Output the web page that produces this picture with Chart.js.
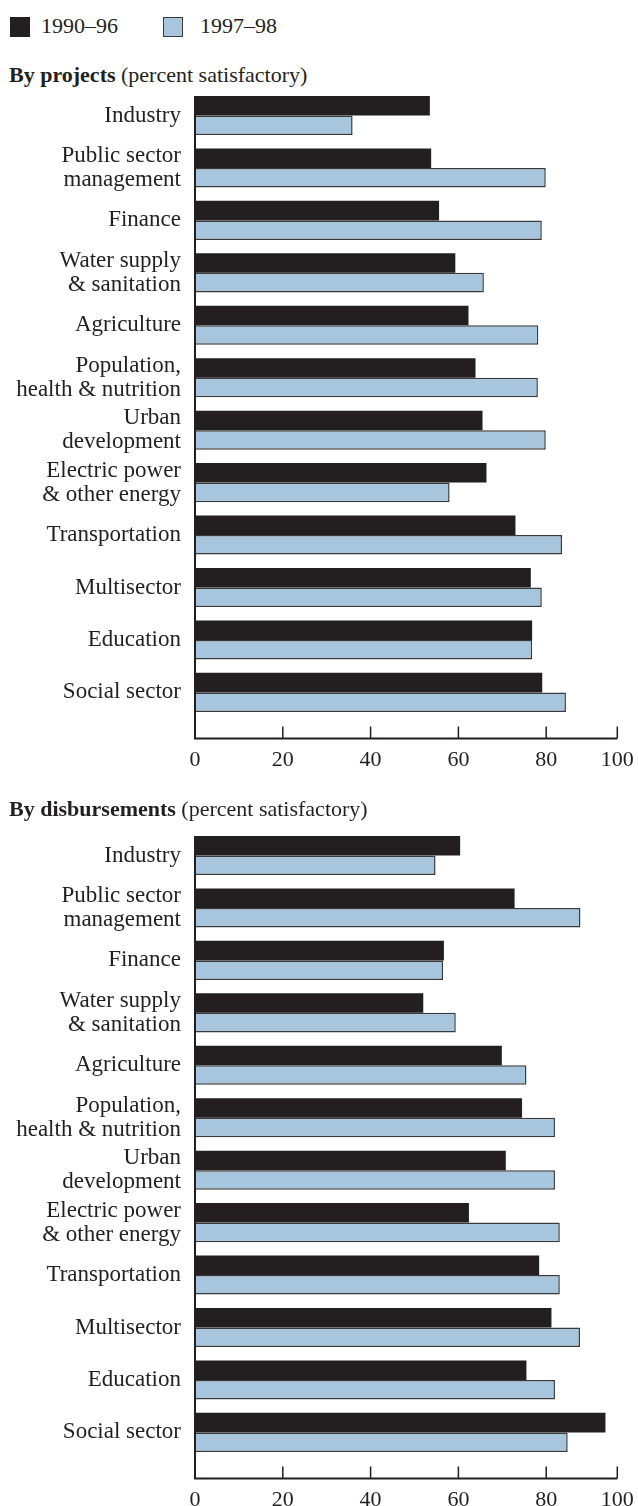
<!DOCTYPE html>
<html lang="en">
<head>
    <meta charset="UTF-8">
    <title>Percent satisfactory by sector</title>
    <script src="https://cdn.jsdelivr.net/npm/chart.js@4.4.0/dist/chart.umd.min.js"></script>
    <style>
        body { margin: 0; background: #fff; font-family: "Liberation Serif", serif; color: #231f20; }
        #page { position: relative; width: 638px; height: 1506px; overflow: hidden; }
        .carre { position: absolute; width: 20px; height: 20px; box-sizing: border-box; }
        .texte { position: absolute; font-size: 22px; line-height: 22px; white-space: nowrap; }
        .zone { position: absolute; left: 0; width: 638px; height: 716px; }
    </style>
</head>
<body>
<div id="page">
    <div class="carre" style="left:10px; top:17px; background:#231f20;"></div>
    <div class="texte" style="left:41px; top:15px;">1990–96</div>
    <div class="carre" style="left:163px; top:17px; background:#a7c6de; border:1.5px solid #3a3a3a;"></div>
    <div class="texte" style="left:200px; top:15px;">1997–98</div>

    <div class="texte" style="left:9px; top:64px;"><b>By projects</b> (percent satisfactory)</div>
    <div class="zone" style="top:86px;"><canvas id="grapheProjets"></canvas></div>

    <div class="texte" style="left:9px; top:798px;"><b>By disbursements</b> (percent satisfactory)</div>
    <div class="zone" style="top:826px;"><canvas id="grapheDecaissements"></canvas></div>
</div>
<script>
    // Secteurs (libelles sur deux lignes quand il faut)
    let secteurs = [
        ['Industry'],
        ['Public sector', 'management'],
        ['Finance'],
        ['Water supply', '& sanitation'],
        ['Agriculture'],
        ['Population,', 'health & nutrition'],
        ['Urban', 'development'],
        ['Electric power', '& other energy'],
        ['Transportation'],
        ['Multisector'],
        ['Education'],
        ['Social sector']
    ];

    let periodes = ['1990–96', '1997–98'];

    // Par projets
    let projets9096 = [53.5, 53.8, 55.6, 59.3, 62.3, 63.9, 65.5, 66.4, 73.0, 76.5, 76.8, 79.1];
    let projets9798 = [35.9, 79.9, 79.0, 65.8, 78.2, 78.1, 79.9, 58.0, 83.6, 79.0, 76.8, 84.5];

    // Par decaissements
    let decaiss9096 = [60.4, 72.8, 56.7, 52.0, 69.9, 74.5, 70.8, 62.4, 78.4, 81.2, 75.5, 93.5];
    let decaiss9798 = [54.8, 87.8, 56.5, 59.4, 75.5, 82.0, 82.0, 83.1, 83.1, 87.7, 82.0, 84.9];

    // Graduations : le trait "100" est dessine un peu avant 100 sur l'original
    let finAxe = 96.2;
    let valeursGraduations = [0, 20, 40, 60, 80, finAxe];
    let libellesGraduations = ['0', '20', '40', '60', '80', '100'];

    const encre = '#231f20';
    const bleu = '#a7c6de';

    Chart.defaults.font.family = '"Liberation Serif", serif';
    Chart.defaults.color = encre;

    // Axe dessine a la main : trait horizontal sous les barres, graduations vers le haut
    const axeMaison = {
        id: 'axeMaison',
        afterDraw(chart) {
            let ctx = chart.ctx;
            let x = chart.scales.x;
            let yAxe = chart.chartArea.bottom + 20;
            let premiere = chart.getDatasetMeta(0).data[0];
            let haut = premiere.y - premiere.height / 2;

            ctx.save();
            ctx.strokeStyle = encre;
            ctx.lineWidth = 2;
            ctx.beginPath();
            ctx.moveTo(x.left, haut);
            ctx.lineTo(x.left, yAxe);
            ctx.lineTo(x.getPixelForValue(finAxe), yAxe);
            ctx.stroke();

            ctx.lineWidth = 1.5;
            ctx.beginPath();
            valeursGraduations.slice(1).forEach(v => {
                let px = x.getPixelForValue(v);
                ctx.moveTo(px, yAxe);
                ctx.lineTo(px, yAxe - 12);
            });
            ctx.stroke();
            ctx.restore();
        }
    };

    let creeGraphe = (idCanvas, valeursA, valeursB) => {
        let ctx = document.getElementById(idCanvas).getContext('2d');
        return new Chart(ctx, {
            type: 'bar',
            data: {
                labels: secteurs,
                datasets: [{
                    label: periodes[0],
                    data: valeursA,
                    backgroundColor: encre,
                    borderWidth: 0
                }, {
                    label: periodes[1],
                    data: valeursB,
                    backgroundColor: bleu,
                    borderColor: '#3a3a3a',
                    borderWidth: 1.5
                }]
            },
            options: {
                indexAxis: 'y',
                responsive: true,
                maintainAspectRatio: false,
                animation: false,
                categoryPercentage: 0.745,
                barPercentage: 1,
                layout: { padding: { top: 3.3, right: 20.7, bottom: 0, left: 0 } },
                plugins: {
                    legend: { display: false },
                    tooltip: { enabled: false }
                },
                scales: {
                    x: {
                        min: 0,
                        max: finAxe,
                        grid: { display: false, drawTicks: false },
                        border: { display: false },
                        afterBuildTicks: axe => {
                            axe.ticks = valeursGraduations.map(v => ({ value: v }));
                        },
                        // pas de marge auto a gauche/droite pour les libelles
                        afterFit: axe => {
                            axe.paddingLeft = 0;
                            axe.paddingRight = 0;
                        },
                        ticks: {
                            padding: 28.5,
                            maxRotation: 0,
                            autoSkip: false,
                            font: { size: 22 },
                            callback: (v, i) => libellesGraduations[i]
                        }
                    },
                    y: {
                        grid: { display: false, drawTicks: false },
                        border: { display: false },
                        afterFit: axe => {
                            axe.width = 195;
                            axe.paddingTop = 0;
                            axe.paddingBottom = 0;
                        },
                        ticks: {
                            padding: 14,
                            autoSkip: false,
                            font: { size: 23, lineHeight: 1.04 }
                        }
                    }
                }
            },
            plugins: [axeMaison]
        });
    };

    creeGraphe('grapheProjets', projets9096, projets9798);
    creeGraphe('grapheDecaissements', decaiss9096, decaiss9798);
</script>
</body>
</html>
